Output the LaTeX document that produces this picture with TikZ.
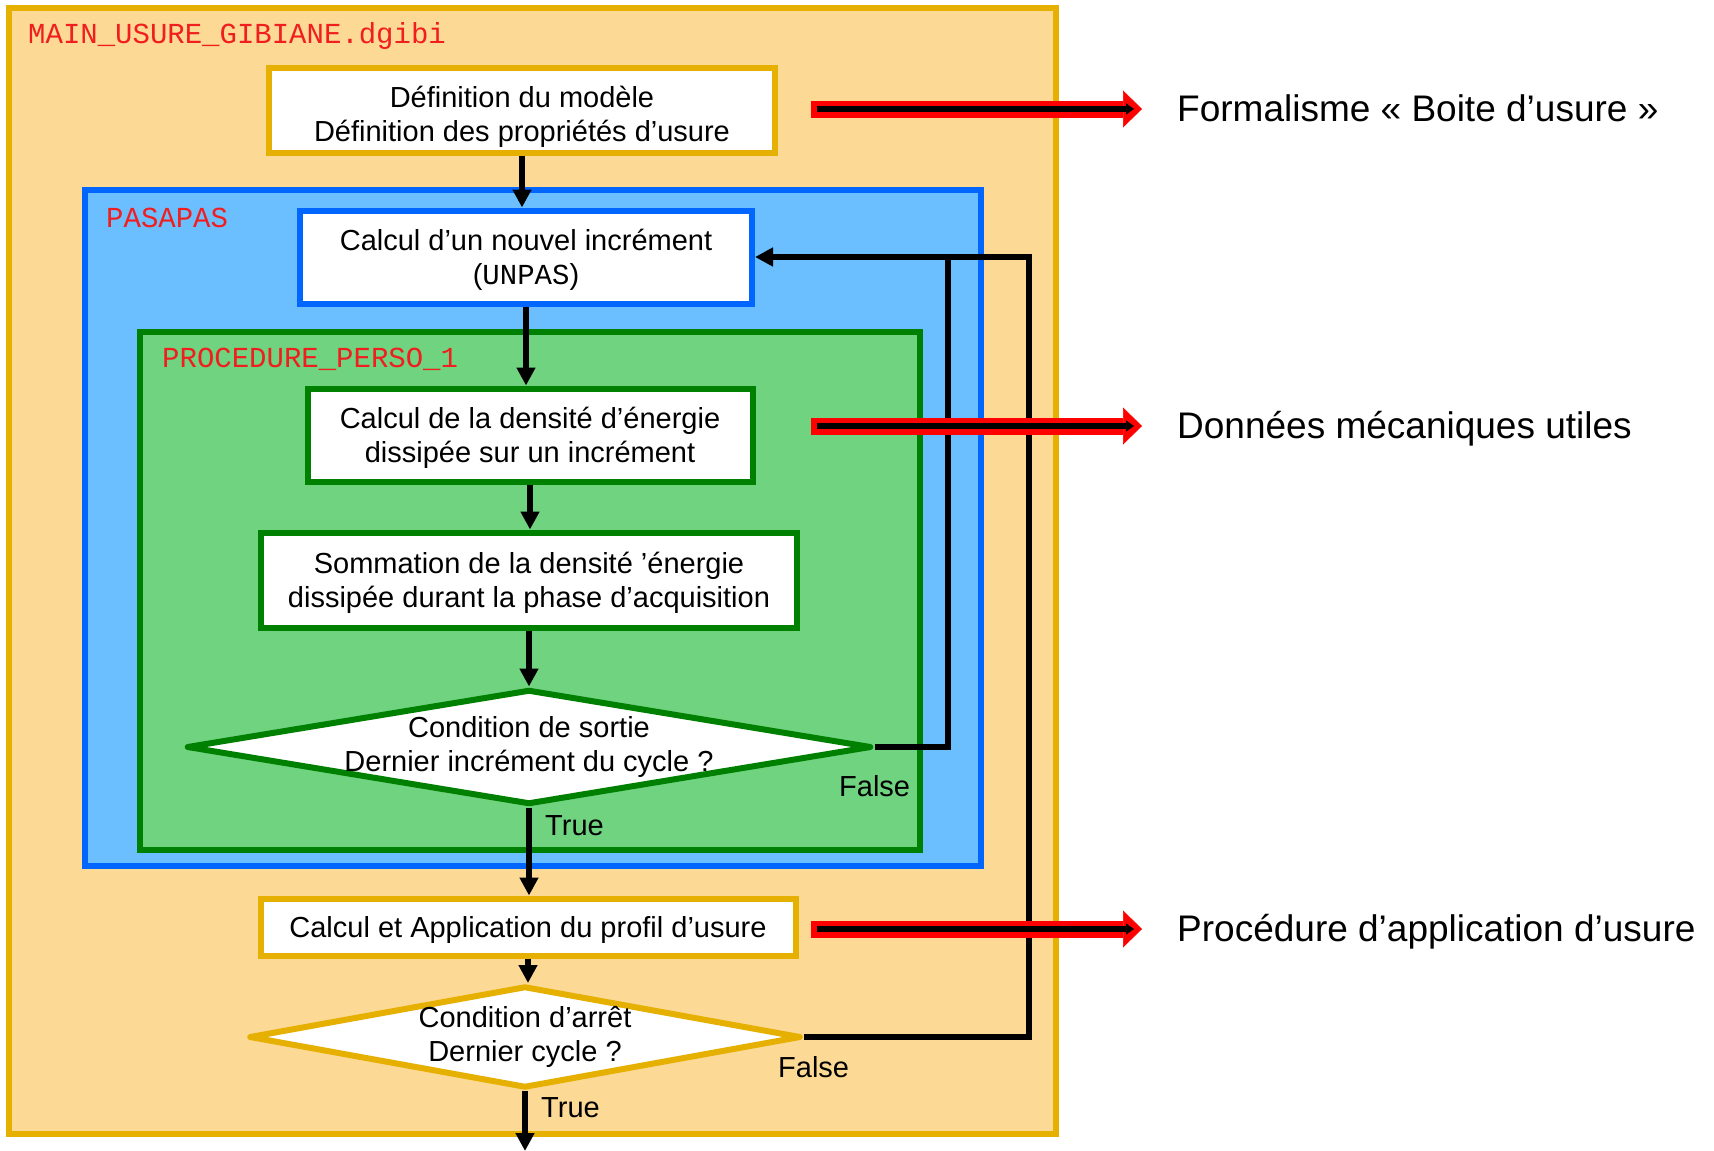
\documentclass[tikz,border=0pt]{standalone}
\usepackage{fontspec}
\setmainfont{Liberation Sans}
\setmonofont{Liberation Mono}
\usetikzlibrary{arrows.meta,shapes.geometric}
\definecolor{usureor}{RGB}{230,176,0}
\definecolor{usurefond}{RGB}{252,217,148}
\definecolor{pasbleu}{RGB}{0,102,255}
\definecolor{pasfond}{RGB}{107,191,255}
\definecolor{persovert}{RGB}{0,128,0}
\definecolor{persofond}{RGB}{111,211,127}
\definecolor{nomrouge}{RGB}{240,30,30}
\newcommand\boitefont{\fontsize{29}{34}\selectfont}
\tikzset{
  cadre/.style={draw=#1, line width=6pt},
  boite/.style={draw=#1, fill=white, line width=6pt, inner sep=0pt,
    align=center, text depth=0pt, font=\boitefont},
  losange/.style={diamond, draw=#1, fill=white, line width=6pt, inner sep=0pt,
    line join=round},
  nomcadre/.style={anchor=base west, inner sep=0pt, text=nomrouge,
    font=\ttfamily\boitefont},
  etiquette/.style={anchor=base west, inner sep=0pt, font=\boitefont},
  legende/.style={anchor=base west, inner sep=0pt,
    font=\fontsize{37}{44}\selectfont},
  fleche/.style={line width=6pt, -{Triangle[length=18pt,width=18pt]}},
  renvoi/.style={line width=6pt},
  grosse fleche/.style={red, line width=17pt,
    -{Triangle[length=19pt,width=37pt,line width=0.5pt]}},
  fine fleche/.style={black, line width=6.5pt,
    -{Triangle[length=8pt,width=11pt,line width=0.5pt]}}
}

\begin{document}
\begin{tikzpicture}[x=1pt,y=-1pt]
\useasboundingbox (0,0) rectangle (1714,1151);
\draw[cadre=usureor, fill=usurefond] (9,8) rectangle (1056,1134);
\draw[cadre=pasbleu, fill=pasfond] (85,190) rectangle (981,866);
\draw[cadre=persovert, fill=persofond] (140,332) rectangle (920,850);
\node[nomcadre] (main) at (28,43) {MAIN\_USURE\_GIBIANE.dgibi};
\node[nomcadre] (pasapas) at (106,227) {PASAPAS};
\node[nomcadre] (perso) at (162,367) {PROCEDURE\_PERSO\_1};

\node[boite=usureor, minimum width=506pt, minimum height=85pt] (defmod) at (522,110)
  {\rule{0pt}{28pt}Définition du modèle\\Définition des propriétés d’usure};
\node[boite=pasbleu, minimum width=452pt, minimum height=93pt] (unpas) at (526,257)
  {Calcul d’un nouvel incrément\\(\texttt{UNPAS})};
\node[boite=persovert, minimum width=445pt, minimum height=93pt] (densite) at (530,435)
  {Calcul de la densité d’énergie\\dissipée sur un incrément};
\node[boite=persovert, minimum width=536pt, minimum height=95pt] (somme) at (529,580)
  {Sommation de la densité ’énergie\\dissipée durant la phase d’acquisition};
\node[losange=persovert, minimum width=685pt, minimum height=115pt] (sortie) at (529,747) {};
\node[align=center, font=\boitefont] (sortietxt) at (sortie)
  {Condition de sortie\\Dernier incrément du cycle ?};
\node[boite=usureor, minimum width=535pt, minimum height=57pt] (profil) at (528,927)
  {Calcul et Application du profil d’usure};
\node[losange=usureor, minimum width=552pt, minimum height=102pt] (arret) at (525,1037) {};
\node[align=center, font=\boitefont] (arrettxt) at (arret)
  {Condition d’arrêt\\Dernier cycle ?};

\coordinate (retour1) at (948,257);
\coordinate (retour2) at (1029,257);
\coordinate (fin) at (525,1151);

\draw[fleche] (defmod.south) -- (defmod.south |- unpas.north);
\draw[fleche] (unpas.south) -- (unpas.south |- densite.north);
\draw[fleche] (densite.south) -- (densite.south |- somme.north);
\draw[fleche] (somme.south) -- (somme.south |- sortie.north);
\draw[fleche] (sortie.south) -- (sortie.south |- profil.north);
\draw[fleche] (profil.south) -- (profil.south |- arret.north);
\draw[fleche] (arret.south) -- (fin);
\draw[fleche] (sortie.east) -| (retour1) -- (unpas.east);
\draw[renvoi] (arret.east) -| (retour2) -- (retour1);

\node[etiquette] (faux1) at (839,796) {False};
\node[etiquette] (vrai1) at (545,835) {True};
\node[etiquette] (faux2) at (778,1077) {False};
\node[etiquette] (vrai2) at (541,1117) {True};

\foreach \y/\nom/\texte in {109/forma/{Formalisme « Boite d’usure »},
    426/donnees/{Données mécaniques utiles},
    929/proced/{Procédure d’application d’usure}}{
  \coordinate (\nom a) at (811,\y);
  \coordinate (\nom b) at (1142,\y);
  \coordinate (\nom c) at (817,\y);
  \coordinate (\nom d) at (1134,\y);
  \draw[grosse fleche] (\nom a) -- (\nom b);
  \draw[fine fleche] (\nom c) -- (\nom d);
  \node[legende] (\nom) at (1177,\y+12) {\texte};
}
\end{tikzpicture}
\end{document}
